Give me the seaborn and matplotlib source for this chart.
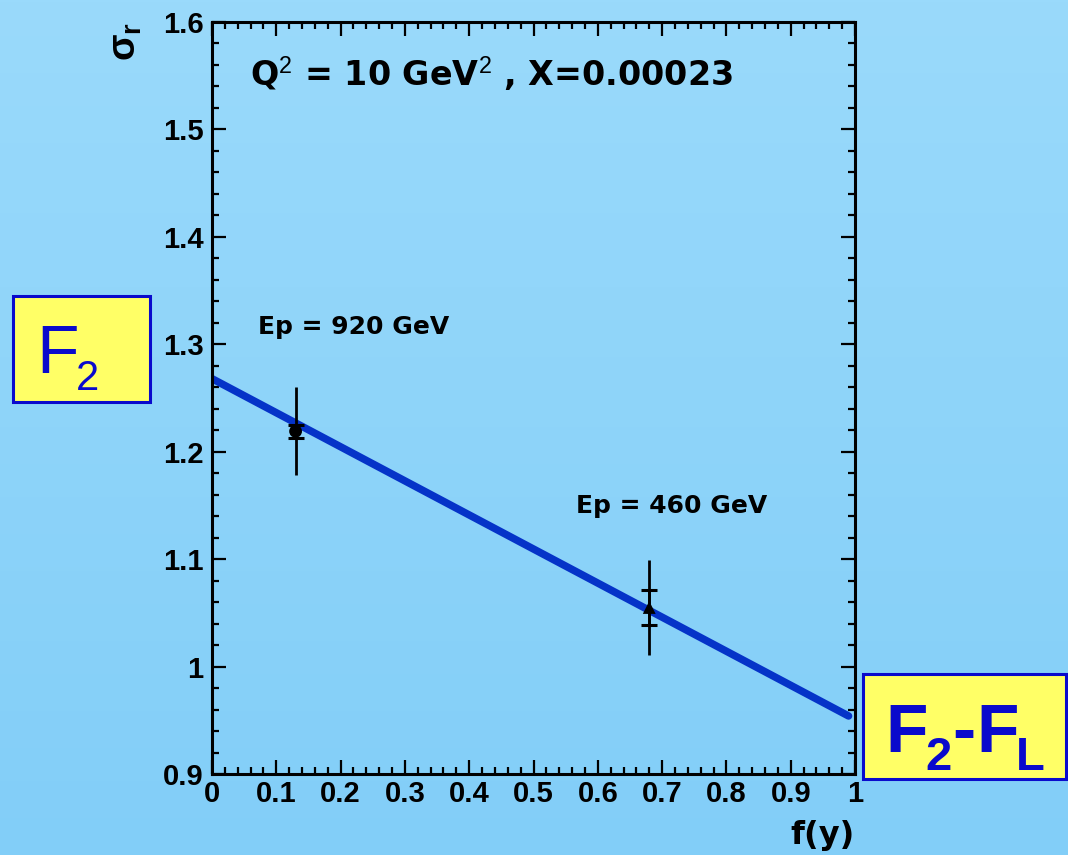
import numpy as np
import pandas as pd
import matplotlib
matplotlib.use("Agg")
import matplotlib.pyplot as plt
from matplotlib.patches import Rectangle
from matplotlib.ticker import FixedLocator, MultipleLocator
import seaborn as sns

# ---------------- data ----------------
beam_labels = ["Ep = 920 GeV", "Ep = 460 GeV"]
fy_values = [0.13, 0.68]
sigma_values = [1.219, 1.055]
total_err = [0.041, 0.044]
stat_err = [0.006, 0.016]
point_markers = ["o", "^"]

fit_x = [0.0, 0.99]
fit_y = [1.268, 0.954]

x_ticks = [0, 0.1, 0.2, 0.3, 0.4, 0.5, 0.6, 0.7, 0.8, 0.9, 1]
x_tick_labels = ["0", "0.1", "0.2", "0.3", "0.4", "0.5", "0.6", "0.7", "0.8", "0.9", "1"]
y_ticks = [0.9, 1.0, 1.1, 1.2, 1.3, 1.4, 1.5, 1.6]
y_tick_labels = ["0.9", "1", "1.1", "1.2", "1.3", "1.4", "1.5", "1.6"]

title_text = r"Q$^{\mathrm{2}}$ = 10 GeV$^{\mathrm{2}}$ , X=0.00023"
x_label = "f(y)"
y_label = r"σ$_{\mathbf{r}}$"

# ---------------- style ----------------
sns.set_theme(style="ticks")
plt.rcParams["font.family"] = ["Liberation Sans", "DejaVu Sans"]
plt.rcParams["mathtext.fontset"] = "custom"
plt.rcParams["mathtext.rm"] = "Liberation Sans"
plt.rcParams["mathtext.bf"] = "Liberation Sans:bold"
plt.rcParams["mathtext.it"] = "Liberation Sans:italic"

W, H = 1068, 855
fig = plt.figure(figsize=(W / 100, H / 100), dpi=100)

# background gradient
bg = fig.add_axes([0, 0, 1, 1], zorder=-10)
top = np.array([0x9A, 0xDA, 0xFB]) / 255
bot = np.array([0x82, 0xCE, 0xF8]) / 255
t = np.linspace(0, 1, 256)[:, None]
grad = top[None, None, :] * (1 - t[..., None]) + bot[None, None, :] * t[..., None]
grad = np.repeat(grad, 4, axis=1)
bg.imshow(grad, aspect="auto", extent=[0, 1, 0, 1])
bg.set_axis_off()

ax = fig.add_axes([212 / W, 1 - 774 / H, (855 - 212) / W, (774 - 22) / H])
ax.set_facecolor("none")

# fit line
df_fit = pd.DataFrame({"fy": fit_x, "sigma": fit_y})
sns.lineplot(data=df_fit, x="fy", y="sigma", ax=ax, color="#0533C8",
             linewidth=5.4, zorder=2, legend=False)

# data points with error bars
df_pts = pd.DataFrame({"fy": fy_values, "sigma": sigma_values,
                       "tot": total_err, "stat": stat_err,
                       "beam": beam_labels})
ax.errorbar(df_pts["fy"], df_pts["sigma"], yerr=df_pts["tot"], fmt="none",
            ecolor="black", elinewidth=2.0, capsize=0, zorder=3)
ax.errorbar(df_pts["fy"], df_pts["sigma"], yerr=df_pts["stat"], fmt="none",
            ecolor="black", elinewidth=2.0, capsize=5.5, capthick=2.2, zorder=3)
sns.scatterplot(data=df_pts, x="fy", y="sigma", style="beam",
                markers=dict(zip(beam_labels, point_markers)),
                color="black", s=85, edgecolor="black", linewidth=0,
                ax=ax, zorder=4, legend=False)

# axes setup
ax.set_xlim(0, 1)
ax.set_ylim(0.9, 1.6)
ax.xaxis.set_major_locator(FixedLocator(x_ticks))
ax.yaxis.set_major_locator(FixedLocator(y_ticks))
ax.set_xticklabels(x_tick_labels)
ax.set_yticklabels(y_tick_labels)
ax.xaxis.set_minor_locator(MultipleLocator(0.02))
ax.yaxis.set_minor_locator(MultipleLocator(0.02))
ax.tick_params(which="both", direction="in", top=True, right=True,
               width=1.6, color="black")
ax.tick_params(which="major", length=10)
ax.tick_params(which="minor", length=5)
ax.tick_params(axis="x", which="major", pad=4, labelsize=21)
ax.tick_params(axis="y", which="major", pad=6, labelsize=21)
for lab in ax.get_xticklabels() + ax.get_yticklabels():
    lab.set_fontweight("bold")
    lab.set_color("black")
for sp in ax.spines.values():
    sp.set_linewidth(2.2)
    sp.set_color("black")

ax.set_xlabel(x_label, loc="right", fontsize=23, fontweight="bold",
              color="black", labelpad=9, family="DejaVu Sans")
ax.set_ylabel(y_label, loc="top", fontsize=28, fontweight="bold",
              color="black", labelpad=14)

# annotations
ax.text(0.059, 1.551, title_text, fontsize=24, fontweight="bold",
        va="center", ha="left", color="black", family="DejaVu Sans")
ax.text(0.0715, 1.316, beam_labels[0], fontsize=18, fontweight="bold",
        va="center", ha="left", color="black", family="DejaVu Sans")
ax.text(0.566, 1.1495, beam_labels[1], fontsize=18, fontweight="bold",
        va="center", ha="left", color="black", family="DejaVu Sans")

# boxes
box_blue = "#0A0ACC"
fig.add_artist(Rectangle((13 / W, 1 - 402 / H), 137 / W, 106 / H,
                         transform=fig.transFigure, facecolor="#FFFF66",
                         edgecolor=box_blue, linewidth=2.2))
fig.add_artist(Rectangle((863 / W, 1 - 779 / H), 203 / W, 105 / H,
                         transform=fig.transFigure, facecolor="#FFFF66",
                         edgecolor=box_blue, linewidth=2.2, clip_on=False))

# (text, x_px, baseline_px, size, weight)
left_box_pieces = [("F", 36, 373, 50, "normal"),
                   ("2", 76, 390, 30, "normal")]
right_box_pieces = [("F", 885, 752, 50, "bold"),
                    ("2", 925, 770, 34, "bold"),
                    ("-", 952, 752, 50, "bold"),
                    ("F", 976, 752, 50, "bold"),
                    ("L", 1016, 770, 34, "bold")]
for txt, xp, yp, fs, fw in left_box_pieces + right_box_pieces:
    fig.text(xp / W, 1 - yp / H, txt, fontsize=fs, fontweight=fw,
             color=box_blue, ha="left", va="baseline")

fig.savefig("out.png", dpi=100)
